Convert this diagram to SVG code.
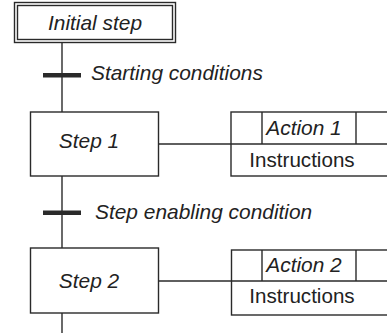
<svg xmlns="http://www.w3.org/2000/svg" width="387" height="333" viewBox="0 0 387 333">
  <style>
    .ln { fill: none; stroke: #2a2a2a; stroke-width: 1.4; }
    .box { fill: #ffffff; stroke: #2a2a2a; stroke-width: 1.4; }
    .bar { fill: #2a2a2a; }
    .t { font-family: "Liberation Sans", Arial, sans-serif; font-size: 20.6px; fill: #222222; }
    .it { font-style: italic; font-size: 20.9px; }
  </style>
  <rect width="387" height="333" fill="#ffffff"/>

  <!-- connectors: main sequence line, transitions and action links -->
  <g id="connectors">
    <line class="ln" x1="62" y1="42" x2="62" y2="112"/>
    <line class="ln" x1="62" y1="176" x2="62" y2="248"/>
    <line class="ln" x1="62" y1="313" x2="62" y2="333"/>
    <line class="ln" x1="158" y1="144" x2="231" y2="144"/>
    <line class="ln" x1="158" y1="281" x2="231" y2="281"/>
  </g>

  <g id="initial-step">
    <rect class="box" x="14.5" y="2.5" width="161" height="40"/>
    <rect class="ln" x="17.5" y="5.5" width="155" height="34"/>
    <text class="t it" x="95" y="30" text-anchor="middle">Initial step</text>
  </g>

  <g id="transition-1">
    <rect class="bar" x="43" y="73" width="38" height="4.5"/>
    <text class="t it" x="91" y="80">Starting conditions</text>
  </g>

  <g id="step-1">
    <rect class="box" x="30.5" y="112" width="128" height="64"/>
    <text class="t it" x="89" y="148" text-anchor="middle">Step 1</text>
  </g>

  <g id="action-1">
    <rect class="box" x="231" y="112" width="170" height="64"/>
    <line class="ln" x1="231" y1="144" x2="387" y2="144"/>
    <line class="ln" x1="262" y1="112" x2="262" y2="144"/>
    <line class="ln" x1="356" y1="112" x2="356" y2="144"/>
    <text class="t it" x="304" y="135" text-anchor="middle">Action 1</text>
    <text class="t" x="302" y="167" text-anchor="middle">Instructions</text>
  </g>

  <g id="transition-2">
    <rect class="bar" x="43" y="210.5" width="38" height="4.5"/>
    <text class="t it" x="95" y="219">Step enabling condition</text>
  </g>

  <g id="step-2">
    <rect class="box" x="30.5" y="248" width="128" height="65"/>
    <text class="t it" x="89" y="288" text-anchor="middle">Step 2</text>
  </g>

  <g id="action-2">
    <rect class="box" x="231.5" y="250" width="170" height="65"/>
    <line class="ln" x1="231.5" y1="281" x2="387" y2="281"/>
    <line class="ln" x1="262" y1="250" x2="262" y2="281"/>
    <line class="ln" x1="356" y1="250" x2="356" y2="281"/>
    <text class="t it" x="304" y="272" text-anchor="middle">Action 2</text>
    <text class="t" x="302" y="303" text-anchor="middle">Instructions</text>
  </g>
</svg>
